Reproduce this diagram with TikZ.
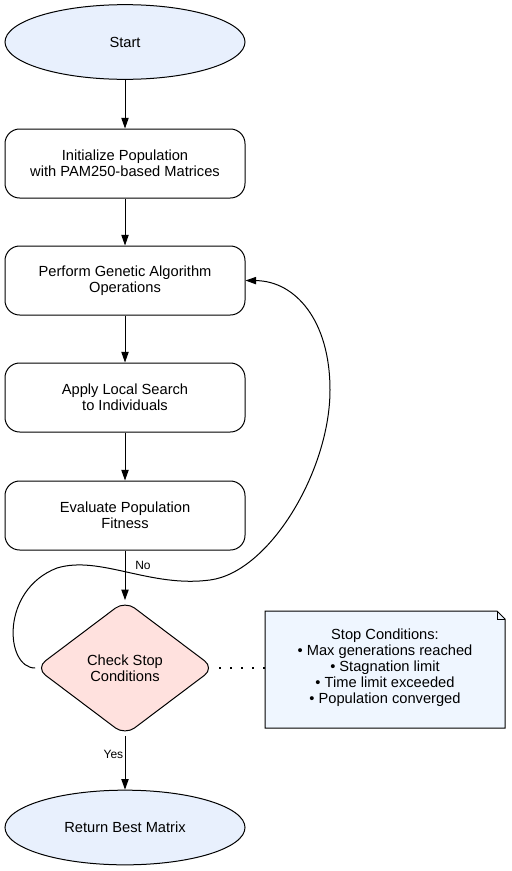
\documentclass[tikz,border=0pt]{standalone}
\usepackage{fontspec}
\setmainfont{Liberation Sans}
\usetikzlibrary{shapes.geometric,arrows.meta}
\definecolor{termfill}{RGB}{232,240,253}
\definecolor{decfill}{RGB}{255,225,222}
\definecolor{notefill}{RGB}{239,246,255}
\begin{document}
\begin{tikzpicture}[x=0.75pt,y=-0.75pt,
  line width=0.75pt,
  every node/.style={font=\fontsize{11}{12}\selectfont, align=center},
  term/.style={ellipse, draw, fill=termfill, minimum width=180pt, minimum height=56pt, inner sep=0pt},
  proc/.style={rectangle, draw, rounded corners=11pt, minimum width=180pt, minimum height=51.75pt, inner sep=0pt},
  dec/.style={diamond, draw, fill=decfill, rounded corners=9pt, minimum width=134pt, minimum height=101pt, inner sep=0pt},
  flow/.style={-{Triangle[width=5.5pt,length=8pt]}},
  lbl/.style={font=\fontsize{9}{10}\selectfont}
]
\useasboundingbox (0,0) rectangle (511,871);
\node[term] (start) at (125,42) {Start};
\node[proc] (init) at (125,163.5) {Initialize Population\\with PAM250-based Matrices};
\node[proc] (ga) at (125,280.5) {Perform Genetic Algorithm\\Operations};
\node[proc] (ls) at (125,397.5) {Apply Local Search\\to Individuals};
\node[proc] (ev) at (125,515.5) {Evaluate Population\\Fitness};
\node[dec] (chk) at (125,668) {Check Stop\\Conditions};
\node[term] (ret) at (125,827.5) {Return Best Matrix};
% note
\draw[fill=notefill] (265,611) -- (497,611) -- (505,619) -- (505,728) -- (265,728) -- cycle;
\draw (497,611) -- (497,619) -- (505,619);
\node[inner sep=0pt] (note) at (385,668) {Stop Conditions:\\\textbullet{} Max generations reached\\\textbullet{} Stagnation limit\\\textbullet{} Time limit exceeded\\\textbullet{} Population converged};
\coordinate (noteW) at (265,668);
\coordinate (chkE) at (219,668);
% flows
\draw[flow] (start) -- (init);
\draw[flow] (init) -- (ga);
\draw[flow] (ga) -- (ls);
\draw[flow] (ls) -- (ev);
\draw[flow] (ev) -- (chk);
\draw[flow] (chk) -- node[lbl, left, inner sep=1pt, pos=0.35] {Yes} (ret);
\draw[line width=0.9pt, dash pattern=on 1.5pt off 6.75pt] (chkE) -- (noteW);
\draw[flow] (chk.west) .. controls (5,668) and (0,590) .. (57,568)
  .. controls (100,555) and (150,588) .. (210,580)
  .. controls (270,572) and (330,470) .. (330,390)
  .. controls (330,320) and (295,281) .. (ga.east);
\node[lbl] (no) at (143,565) {No};
\end{tikzpicture}
\end{document}
